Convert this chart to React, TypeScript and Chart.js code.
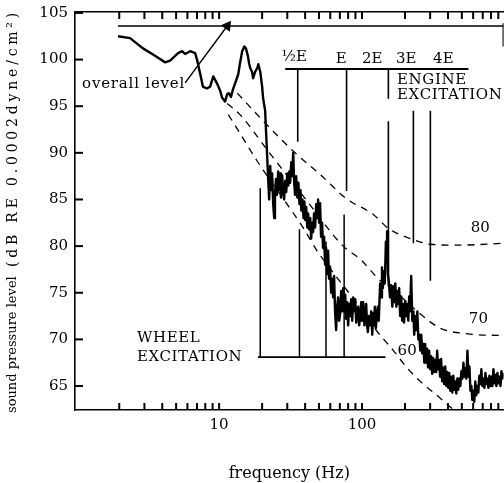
import React, { useEffect, useRef } from "react";
import { Chart, registerables } from "chart.js";
Chart.register(...registerables);

const FONT = "'DejaVu Serif', 'Liberation Serif', serif";

// ---- measured spectrum (Hz, dB) ----
const spectrumFreq = [
  1.96, 2.38, 2.93, 3.56, 4.19, 4.54, 5.16, 5.5, 5.78, 6.26, 6.79, 7.0, 7.36, 7.7, 8.2, 8.65, 9.1, 9.7,
  10.2, 10.5, 11.0, 11.4, 11.7, 12.1, 12.5, 13.1, 13.6, 14.0, 14.5, 15.0, 15.4, 15.9, 16.2, 16.5, 17.0,
  17.3, 17.9, 18.5, 18.8, 19.4, 20.0, 20.3, 21.0, 21.3, 21.7,
  22.0, 22.4, 22.8, 23.1, 23.5, 23.9, 24.3, 24.6, 25.0, 25.4, 25.9, 26.3, 26.7, 27.1, 27.6, 28.0, 28.5,
  29.0, 29.5, 30.0, 30.5, 31.0, 31.4, 32.0, 32.5, 33.0, 33.5, 34.0, 34.6, 35.3, 35.9, 36.5, 37.1, 37.6,
  38.3, 39.0, 39.5, 40.0, 40.7, 41.4, 42.0, 42.7, 43.4, 44.1, 44.8, 45.5, 46.2, 47.0, 47.8, 48.5, 49.3,
  50.1, 50.9, 51.7, 52.6, 53.4, 54.3, 55.2, 56.1, 57.0, 57.9, 58.8, 59.8, 60.8, 61.8, 62.8, 63.8, 64.8,
  65.9, 67.0, 68.1, 69.2, 70.4, 71.5, 72.7, 73.9, 75.1, 76.3, 77.5, 78.8, 80.0, 81.3, 82.7, 84.0, 85.4,
  86.8, 88.2, 89.7, 91.1, 92.6, 94.1, 95.6, 97.2, 98.8, 100, 102, 104, 105.5, 107, 108.5, 110, 112, 114,
  116, 118, 120, 121, 123, 125, 127, 129, 131, 134, 136, 138, 140, 142, 144.5, 147, 149, 150, 152, 154,
  157, 160, 163, 166, 168.5, 171, 174, 177, 180, 182, 185, 188, 191, 194, 197, 201, 204, 207, 211, 214,
  217, 221, 225, 229, 232, 236, 240, 244, 248, 252, 256, 260, 264, 269, 273, 277, 281, 286, 290, 295,
  300, 305, 310, 315, 320, 326, 331, 336, 341, 347, 352, 358, 364, 370, 376, 383, 389, 395, 402, 408,
  415, 422, 429, 436, 443, 450, 457, 465, 472, 480, 488, 496, 504, 513, 521, 529, 538, 547, 556, 565,
  574, 583, 592, 602, 611, 621, 631, 642, 652, 663, 674, 685, 696, 707, 719, 731, 743, 755, 767, 780,
  792, 805, 818, 832, 845, 859, 873, 887, 902, 917, 932, 947, 962, 977,
];
const spectrumDb = [
  102.5, 102.3, 101.2, 100.4, 99.7, 99.9, 100.7, 100.9, 100.6, 100.9, 100.7, 100.0, 98.5, 97.1, 96.9, 97.1, 98.2, 97.4,
  96.6, 95.9, 95.5, 96.3, 96.4, 96.0, 96.8, 97.7, 98.4, 99.6, 100.9, 101.4, 101.2, 100.4, 99.6, 99.1, 98.7,
  98.0, 98.7, 99.1, 99.5, 98.7, 97.1, 95.9, 94.5, 92.3, 89.6,
  87.5, 85.0, 88.6, 86.0, 87.8, 84.5, 83.0, 85.5, 87.2, 85.5, 88.0, 86.0, 87.8, 85.2, 87.6, 86.0, 85.0,
  87.0, 85.8, 87.8, 86.5, 88.0, 86.8, 89.0, 87.5, 90.0, 87.0, 85.5, 87.5, 85.2, 86.8, 84.5, 86.0, 83.8,
  85.0, 83.0, 84.8, 82.8, 84.2, 82.0, 83.5, 81.8, 83.0, 80.8, 82.5, 81.5, 83.5, 82.0, 84.5, 83.0, 85.0,
  82.5, 84.6, 81.0, 82.5, 79.8, 81.0, 78.0, 79.8, 77.0, 79.5, 76.5, 77.8, 75.0, 76.5, 74.5, 76.8, 73.0,
  71.0, 73.5, 74.5, 72.0, 72.8, 75.2, 73.0, 75.5, 73.0, 74.8, 72.2, 74.0, 71.5, 73.8, 72.5, 74.3, 72.0,
  74.5, 73.0, 74.3, 71.8, 73.0, 73.5, 71.5, 72.5, 74.0, 72.0, 74.0, 71.5, 73.0, 73.8, 71.5, 70.8, 72.5, 71.5,
  73.0, 70.5, 72.8, 71.5, 73.5, 71.2, 72.5, 73.5, 72.0, 76.0, 74.5, 77.7, 75.5, 77.3, 76.0, 80.5, 78.5, 81.6, 77.0, 76.3,
  74.5, 75.8, 73.5, 75.7, 74.0, 76.0, 73.5, 75.2, 73.8, 75.5, 72.5, 74.6, 72.0, 73.8, 71.8, 74.1, 72.5, 73.8, 72.0, 74.6,
  73.0, 76.8, 72.0, 73.0, 70.5, 72.5, 71.0, 73.0, 70.0, 70.5, 68.8, 70.5, 68.5, 69.5, 67.5, 69.5, 67.5, 69.0, 67.0, 68.8,
  66.8, 68.2, 66.3, 68.0, 66.5, 67.8, 66.5, 68.8, 66.8, 67.8, 66.0, 67.9, 65.5, 67.0, 65.2, 67.1, 65.0, 66.5, 64.8, 66.4,
  64.5, 66.0, 64.3, 66.1, 64.6, 65.5, 64.2, 65.8, 64.6, 65.8, 65.0, 66.6, 65.8, 67.5, 66.0, 66.9, 65.8, 68.8, 66.0, 67.1,
  64.5, 65.0, 63.5, 64.5, 63.3, 65.5, 64.0, 65.0, 64.3, 66.1, 65.2, 66.8, 65.0, 65.8, 64.8, 66.4, 65.2, 65.8, 64.8, 66.1,
  65.0, 66.0, 65.0, 66.8, 65.3, 66.2, 65.0, 66.4, 65.3, 66.0, 65.0, 66.6, 65.8, 66.4,
];

// overall level
const overallFreq = [1.96, 975];
const overallDb = [103.6, 103.6];
const frameFreq = [975, 975];
const frameDb = [103.9, 101.4];

// noise criterion style curves
const nc80Freq = [13.4, 21.0, 34.0, 50.9, 77.5, 120, 153, 229, 301, 465, 977];
const nc80Db = [96.4, 93.2, 90.0, 87.7, 85.1, 83.4, 81.9, 80.7, 80.2, 80.1, 80.3];
const nc70Freq = [11.4, 14.0, 22.0, 41.4, 73.9, 97.2, 134, 177, 244, 353, 547, 977];
const nc70Db = [95.3, 94.1, 90.2, 84.8, 80.0, 78.6, 76.3, 74.9, 73.0, 71.2, 70.6, 70.4];
const nc60Freq = [11.6, 14.0, 18.5, 29.9, 39.0, 48.5, 59.8, 89.7, 127, 166, 208, 256, 353, 450, 529];
const nc60Db = [94.1, 92.1, 89.1, 84.5, 81.9, 79.5, 77.6, 74.1, 70.9, 68.8, 66.9, 65.5, 63.7, 62.3, 61.5];

// engine excitation
const engineBarFreq = [29, 556];
const engineBarDb = 99.0;
const engineLineFreq = [35.5, 78, 153, 153, 229, 301];
const engineLineTop = [99.0, 99.0, 99.0, 93.4, 94.5, 94.5];
const engineLineBottom = [91.2, 85.9, 95.8, 75.7, 80.3, 76.3];

// wheel excitation
const wheelBarFreq = [18.7, 146];
const wheelBarDb = 68.1;
const wheelLineFreq = [19.4, 36.5, 56, 75];
const wheelLineTop = [86.2, 81.8, 80.5, 83.4];

// arrow for "overall level"
const arrowFreq = [5.78, 11.4];
const arrowDb = [97.5, 103.6];

// axes
const xTickValues = [2, 3, 4, 5, 6, 7, 8, 9, 10, 20, 30, 40, 50, 60, 70, 80, 90, 100, 200, 300, 400, 500, 600, 700, 800, 900];
const xTickLabels = [10, 100];
const yTickValues = [65, 70, 75, 80, 85, 90, 95, 100, 105];

// text annotations: [text, freq, dB, align]
const annotations: [string, number, number, CanvasTextAlign][] = [
  ["overall level", 2.52, 97.35, "center"],
  ["½E", 33.6, 100.25, "center"],
  ["E", 71.6, 100.1, "center"],
  ["2E", 118, 100.1, "center"],
  ["3E", 204, 100.1, "center"],
  ["4E", 371, 100.1, "center"],
  ["ENGINE", 176, 97.8, "left"],
  ["EXCITATION", 176, 96.2, "left"],
  ["WHEEL", 2.66, 70.1, "left"],
  ["EXCITATION", 2.66, 68.1, "left"],
  ["80", 674, 81.9, "center"],
  ["70", 653, 72.2, "center"],
  ["60", 207, 68.75, "center"],
];
const annotationSpacing: Record<string, string> = {
  "overall level": "0.8px",
  ENGINE: "0.6px",
  EXCITATION: "0.6px",
  WHEEL: "0.6px",
};

const pts = (xs: number[], ys: number[]) => xs.map((x, i) => ({ x, y: ys[i] }));

const seg = (data: { x: number; y: number }[], extra: any = {}) => ({
  data,
  showLine: true,
  pointRadius: 0,
  borderColor: "#000",
  backgroundColor: "#000",
  borderWidth: 1.5,
  fill: false,
  tension: 0,
  ...extra,
});

const drawPlugin = {
  id: "texts",
  afterDraw(chart: any) {
    const ctx: CanvasRenderingContext2D = chart.ctx;
    const xs = chart.scales.x;
    const ys = chart.scales.y;
    const left = xs.left;
    const bottom = ys.bottom;
    const top = ys.top;
    // inward tick marks
    ctx.save();
    ctx.setLineDash([]);
    ctx.globalAlpha = 1;
    ctx.globalCompositeOperation = "source-over";
    ctx.strokeStyle = "rgb(0,0,0)";
    ctx.lineWidth = 2;
    for (const v of xTickValues) {
      const px = xs.getPixelForValue(v);
      ctx.beginPath();
      ctx.moveTo(px, bottom);
      ctx.lineTo(px, bottom - 7);
      ctx.stroke();
      ctx.beginPath();
      ctx.moveTo(px, top);
      ctx.lineTo(px, top + 7);
      ctx.stroke();
    }
    for (const v of yTickValues) {
      const py = ys.getPixelForValue(v);
      ctx.beginPath();
      ctx.moveTo(left, py);
      ctx.lineTo(left + 8, py);
      ctx.stroke();
    }
    ctx.restore();

    ctx.save();
    ctx.fillStyle = "#000";
    ctx.textBaseline = "middle";
    ctx.font = `15px ${FONT}`;
    for (const [t, f, d, a] of annotations) {
      ctx.textAlign = a;
      (ctx as any).letterSpacing = annotationSpacing[t] || "0px";
      ctx.fillText(t, xs.getPixelForValue(f), ys.getPixelForValue(d));
    }
    ctx.restore();
    // y axis title
    ctx.save();
    ctx.fillStyle = "#000";
    ctx.translate(13, 413);
    ctx.rotate(-Math.PI / 2);
    ctx.textAlign = "left";
    ctx.textBaseline = "middle";
    ctx.font = `13px ${FONT}`;
    (ctx as any).letterSpacing = "0px";
    ctx.fillText("sound pressure level", 0, 0);
    ctx.font = `14px ${FONT}`;
    (ctx as any).letterSpacing = "3.8px";
    ctx.fillText("(dB RE 0.0002dyne/cm²)", 146, 0);
    ctx.restore();
  },
};

export default function App() {
  const ref = useRef<HTMLCanvasElement | null>(null);
  useEffect(() => {
    if (!ref.current) return;
    const setTicks = (vals: number[]) => (s: any) => {
      s.ticks = vals.map((v) => ({ value: v }));
    };
    const noPad = (s: any) => {
      s.paddingTop = 0;
      s.paddingBottom = 0;
      s.paddingLeft = 0;
      s.paddingRight = 0;
    };
    const datasets: any[] = [
      seg(pts(spectrumFreq, spectrumDb), { borderWidth: 2.4, borderJoinStyle: "round" }),
      seg(pts(overallFreq, overallDb), { borderWidth: 1.6 }),
      seg(pts(frameFreq, frameDb), { borderWidth: 1.5 }),
      seg(pts(nc80Freq, nc80Db), { borderWidth: 1.3, borderDash: [7, 6], cubicInterpolationMode: "monotone" }),
      seg(pts(nc70Freq, nc70Db), { borderWidth: 1.3, borderDash: [7, 6], cubicInterpolationMode: "monotone" }),
      seg(pts(nc60Freq, nc60Db), { borderWidth: 1.3, borderDash: [7, 6], cubicInterpolationMode: "monotone" }),
      seg(pts(engineBarFreq, [engineBarDb, engineBarDb]), { borderWidth: 2 }),
      seg(pts(wheelBarFreq, [wheelBarDb, wheelBarDb]), { borderWidth: 1.8 }),
      seg(pts(arrowFreq, arrowDb), {
        borderWidth: 1.4,
        pointRadius: [0, 5],
        pointStyle: "triangle",
        pointRotation: 36,
      }),
    ];
    engineLineFreq.forEach((f, i) => {
      datasets.push(seg(pts([f, f], [engineLineTop[i], engineLineBottom[i]]), { borderWidth: 1.6 }));
    });
    wheelLineFreq.forEach((f, i) => {
      datasets.push(seg(pts([f, f], [wheelBarDb, wheelLineTop[i]]), { borderWidth: 1.5 }));
    });

    const chart = new Chart(ref.current, {
      type: "scatter",
      data: { datasets },
      plugins: [drawPlugin],
      options: {
        responsive: false,
        animation: false,
        devicePixelRatio: 1,
        layout: { padding: { left: 0, right: 0, top: 0, bottom: 0 } },
        plugins: { legend: { display: false }, tooltip: { enabled: false } },
        scales: {
          x: {
            type: "logarithmic",
            position: "bottom",
            min: 0.98,
            max: 980,
            afterBuildTicks: setTicks(xTickValues),
            afterFit: (s: any) => {
              s.height = 73;
              noPad(s);
            },
            ticks: {
              autoSkip: false,
              maxRotation: 0,
              padding: 6,
              color: "#000",
              font: { family: FONT, size: 15 },
              callback: (v: any) => (xTickLabels.includes(Number(v)) ? String(v) : ""),
            },
            grid: { drawOnChartArea: false, drawTicks: false },
            border: { color: "#000", width: 1.6 },
            title: {
              display: true,
              text: "frequency (Hz)",
              color: "#000",
              font: { family: FONT, size: 16 },
              padding: { top: 0, bottom: 0 },
            },
          },
          xTop: {
            type: "logarithmic",
            position: "top",
            min: 0.98,
            max: 980,
            afterBuildTicks: setTicks(xTickValues),
            afterFit: (s: any) => {
              s.height = 12;
              noPad(s);
            },
            ticks: { display: false },
            grid: { drawOnChartArea: false, drawTicks: false },
            border: { color: "#000", width: 1.6 },
          },
          y: {
            type: "linear",
            position: "left",
            min: 62.43,
            max: 105.1,
            afterBuildTicks: setTicks(yTickValues),
            afterFit: (s: any) => {
              s.width = 75;
              noPad(s);
            },
            ticks: {
              padding: 7,
              color: "#000",
              font: { family: FONT, size: 15 },
            },
            grid: { drawOnChartArea: false, drawTicks: false },
            border: { color: "#000", width: 1.6 },
          },
        },
      } as any,
    });
    return () => chart.destroy();
  }, []);
  return (
    <div style={{ position: "fixed", left: 0, top: 0, width: 504, height: 483, overflow: "hidden", background: "#fff" }}>
      <canvas ref={ref} width={510} height={483} style={{ display: "block" }} />
    </div>
  );
}
